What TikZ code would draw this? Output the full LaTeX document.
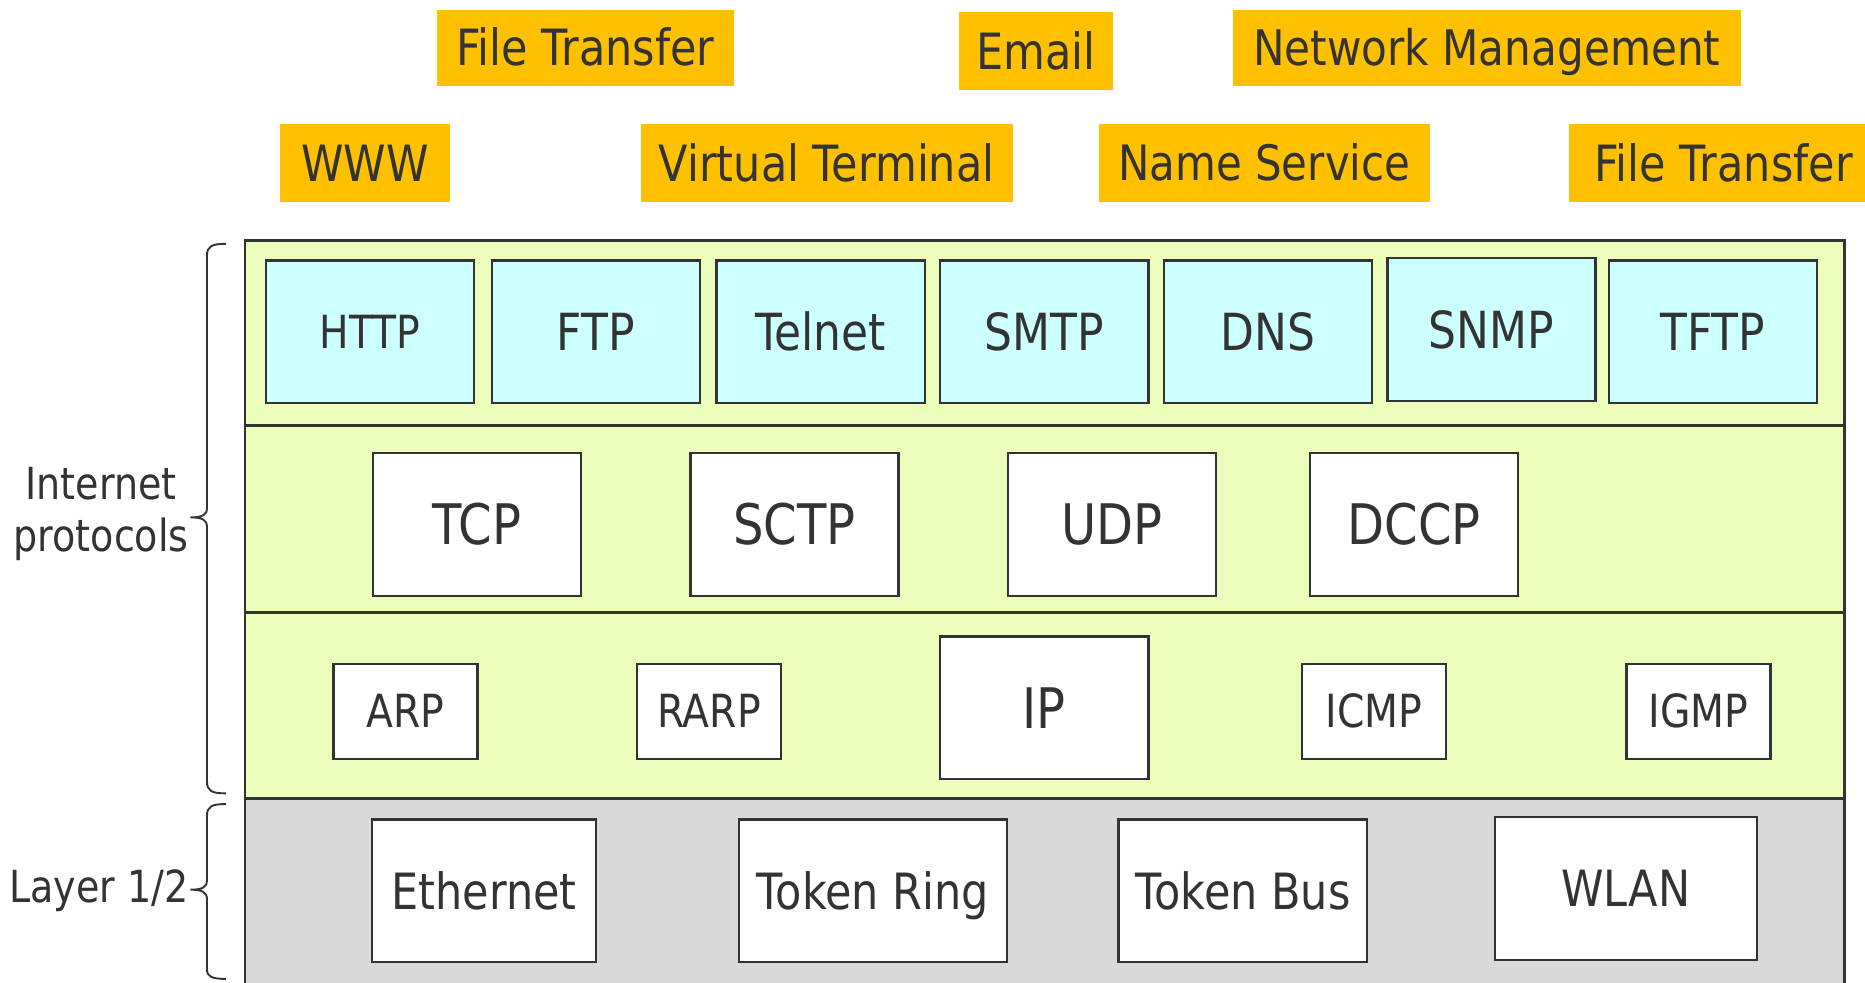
\documentclass[tikz,border=0pt]{standalone}
\usepackage{fontspec}
\setmainfont{DejaVu Sans}[FakeStretch=0.86]
\newlength\pxu \setlength\pxu{0.5pt}
\definecolor{lblor}{HTML}{FFC000}
\definecolor{rowgr}{HTML}{EBFCBB}
\definecolor{appcy}{HTML}{CCFFFF}
\definecolor{linkgy}{HTML}{D9D9D9}
\definecolor{txtc}{HTML}{333333}
\newcommand\fsBig{\fontsize{21pt}{25pt}\selectfont}
\newcommand\fsTr{\fontsize{23.5pt}{27pt}\selectfont}
\newcommand\fsApp{\fontsize{21.5pt}{25pt}\selectfont}
\newcommand\fsHttp{\fontsize{19.2pt}{23pt}\selectfont}
\newcommand\fsSml{\fontsize{19.2pt}{23pt}\selectfont}
\newcommand\fsSide{\fontsize{18.6pt}{21.8pt}\selectfont}
\newcommand\cc[1]{\raisebox{0pt}[0.73em][0pt]{#1}}
\begin{document}
\begin{tikzpicture}[x=0.5pt,y=-0.5pt,
  lbl/.style={fill=lblor, text=txtc, inner sep=0pt, font=\fsBig, minimum height=64\pxu},
  pbox/.style={draw=txtc, line width=1pt, text=txtc, inner sep=0pt, minimum width=175\pxu, minimum height=120\pxu},
  appbox/.style={pbox, fill=appcy, font=\fsApp},
  tbox/.style={pbox, fill=white, font=\fsTr},
  wbox/.style={pbox, fill=white, font=\fsBig},
  sbox/.style={pbox, fill=white, font=\fsSml, minimum width=121\pxu, minimum height=80\pxu},
  rowline/.style={draw=txtc, line width=1.2pt},
  bracel/.style={draw=txtc, line width=0.8pt},
  sidetxt/.style={text=txtc, font=\fsSide, inner sep=0pt, align=center}
]
\useasboundingbox (0,0) rectangle (1568,826);
% layer rows
\path[rowline, fill=rowgr] (206,202) rectangle (1551,358);
\path[rowline, fill=rowgr] (206,358) rectangle (1551,515);
\path[rowline, fill=rowgr] (206,515) rectangle (1551,671);
\path[rowline, fill=linkgy] (206,671) rectangle (1551,840);
% top labels
\node[lbl, minimum width=250\pxu] (ft1) at (492,40) {\cc{File Transfer}};
\node[lbl, minimum width=130\pxu, minimum height=66\pxu] (email) at (871,43) {\cc{Email}};
\node[lbl, minimum width=427\pxu, font=\fontsize{20.6pt}{25pt}\selectfont] (nm) at (1250,40) {\cc{Network Management}};
\node[lbl, minimum width=143\pxu, minimum height=66\pxu] (www) at (307,137) {\cc{WWW}};
\node[lbl, minimum width=313\pxu, minimum height=66\pxu] (vt) at (695,137) {\cc{Virtual Terminal}};
\node[lbl, minimum width=278\pxu, minimum height=66\pxu, font=\fontsize{20.5pt}{25pt}\selectfont] (ns) at (1063,137) {\cc{Name Service}};
\node[lbl, minimum width=260\pxu, minimum height=66\pxu] (ft2) at (1449,137) {\cc{File Transfer}};
% application
\node[appbox, font=\fsHttp] (http) at (311,279) {\cc{HTTP}};
\node[appbox] (ftp) at (501,279) {\cc{FTP}};
\node[appbox] (telnet) at (690,279) {\cc{Telnet}};
\node[appbox] (smtp) at (878,279) {\cc{SMTP}};
\node[appbox] (dns) at (1066,279) {\cc{DNS}};
\node[appbox] (snmp) at (1254,277) {\cc{SNMP}};
\node[appbox] (tftp) at (1440,279) {\cc{TFTP}};
% transport
\node[tbox] (tcp) at (401,441) {\cc{TCP}};
\node[tbox] (sctp) at (668,441) {\cc{SCTP}};
\node[tbox] (udp) at (935,441) {\cc{UDP}};
\node[tbox] (dccp) at (1189,441) {\cc{DCCP}};
% internet
\node[sbox] (arp) at (341,598) {\cc{ARP}};
\node[sbox] (rarp) at (596,598) {\cc{RARP}};
\node[tbox] (ip) at (878,595) {\cc{IP}};
\node[sbox] (icmp) at (1155,598) {\cc{ICMP}};
\node[sbox] (igmp) at (1428,598) {\cc{IGMP}};
% link
\node[wbox, minimum width=188\pxu] (eth) at (407,749) {\cc{Ethernet}};
\node[wbox, minimum width=225\pxu] (tr) at (734,749) {\cc{Token Ring}};
\node[wbox, minimum width=209\pxu] (tb) at (1045,749) {\cc{Token Bus}};
\node[wbox, minimum width=220\pxu] (wlan) at (1367,747) {\cc{WLAN}};
% braces
\draw[bracel] (190,205) .. controls (178,205) and (174,207) .. (174,215) -- (174,427)
  .. controls (174,433) and (170,435) .. (160,435)
  .. controls (170,435) and (174,437) .. (174,443) -- (174,657)
  .. controls (174,665) and (178,667) .. (190,667);
\draw[bracel] (190,676) .. controls (178,676) and (174,678) .. (174,686) -- (174,740)
  .. controls (174,746) and (170,748) .. (160,748)
  .. controls (170,748) and (174,750) .. (174,756) -- (174,815)
  .. controls (174,821) and (178,823) .. (190,823);
\node[sidetxt] (ip-lbl) at (85,432) {Internet\\protocols};
\node[sidetxt, anchor=east] (l12) at (159,749) {Layer 1/2};
\end{tikzpicture}
\end{document}
